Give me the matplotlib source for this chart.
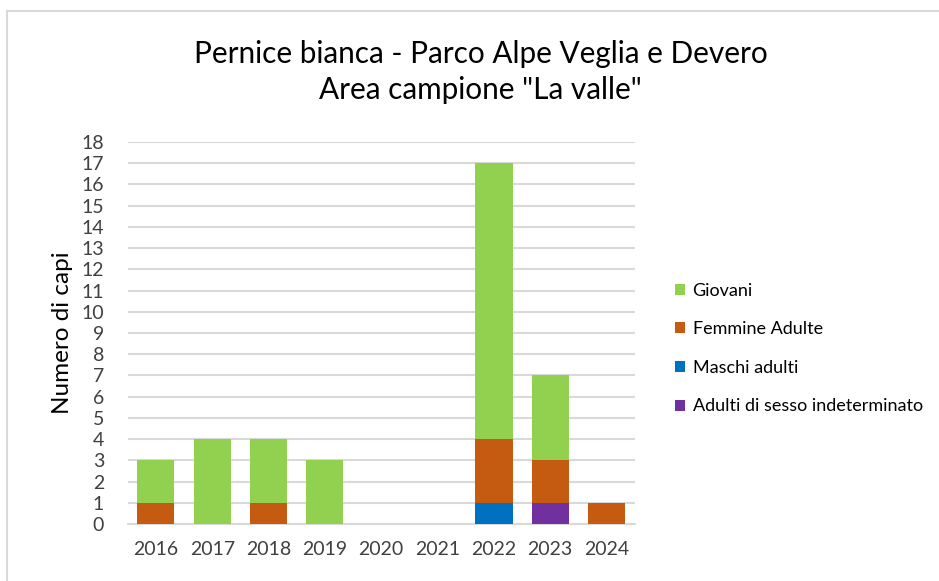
import numpy as np
import matplotlib
matplotlib.use('Agg')
import matplotlib.pyplot as plt
from matplotlib.patches import Rectangle

plt.rcParams['font.family'] = ['Lato', 'DejaVu Sans']

years = ['2016', '2017', '2018', '2019', '2020', '2021', '2022', '2023', '2024']
adulti_indet = [0, 0, 0, 0, 0, 0, 0, 1, 0]
maschi = [0, 0, 0, 0, 0, 0, 1, 0, 0]
femmine = [1, 0, 1, 0, 0, 0, 3, 2, 1]
giovani = [2, 4, 3, 3, 0, 0, 13, 4, 0]

series = [
    ('Adulti di sesso indeterminato', adulti_indet, '#7030A0'),
    ('Maschi adulti', maschi, '#0070C0'),
    ('Femmine Adulte', femmine, '#C55A11'),
    ('Giovani', giovani, '#92D050'),
]

fig = plt.figure(figsize=(9.39, 5.81), dpi=100)
ax = fig.add_axes([0.136, 0.098, 0.540, 0.6576])

x = np.arange(len(years))
bottom = np.zeros(len(years))
handles = []
for name, vals, col in series:
    b = ax.bar(x, vals, bottom=bottom, width=0.66, color=col, label=name, zorder=3)
    bottom += np.array(vals)
    handles.append(b)

ax.set_xlim(-0.5, len(years) - 0.5)
ax.set_ylim(0, 18)
ax.set_yticks(range(0, 19))
ax.set_xticks(x)
ax.set_xticklabels(years)
ax.tick_params(axis='both', length=0, labelsize=14, colors='#404040')
ax.tick_params(axis='y', pad=17)
ax.tick_params(axis='x', pad=12)
ax.grid(axis='y', color='#D9D9D9', linewidth=1.5, zorder=0)
for s in ['top', 'right', 'left']:
    ax.spines[s].set_visible(False)
ax.spines['bottom'].set_color('#D9D9D9')
ax.spines['bottom'].set_linewidth(1.5)

ax.set_ylabel('Numero di capi', fontsize=17.5, color='black', labelpad=6)

fig.text(0.512, 0.876, 'Pernice bianca - Parco Alpe Veglia e Devero\nArea campione "La valle"',
         ha='center', va='center', fontsize=21.4, linespacing=1.35)

leg = fig.legend(handles[::-1], [s[0] for s in series][::-1], loc='center left',
                 bbox_to_anchor=(0.702, 0.40), frameon=False, fontsize=13,
                 handlelength=0.55, handleheight=0.55, handletextpad=0.4,
                 labelspacing=1.25)

fig.patches.append(Rectangle((7 / 939, -0.1), 1.2, 1 - 11 / 581 + 0.1,
                             transform=fig.transFigure, fill=False,
                             edgecolor='#D9D9D9', linewidth=1.5))

fig.savefig('out.png', dpi=100)
